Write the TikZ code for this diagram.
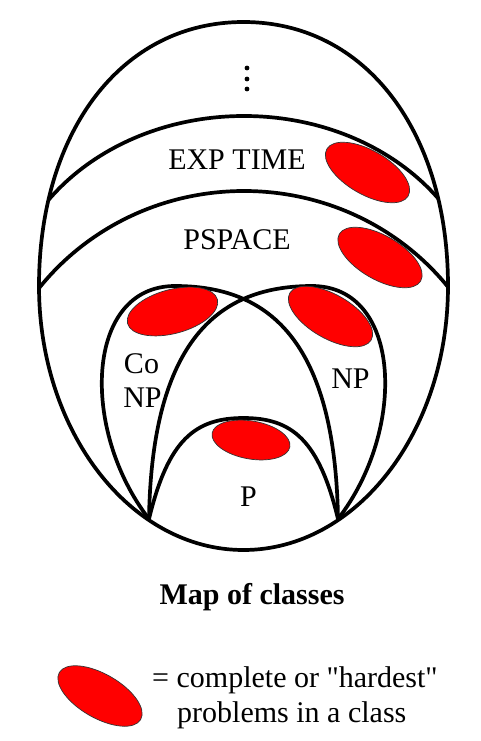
\documentclass[tikz,border=0pt]{standalone}
\usepackage{fontspec}
\setmainfont{Liberation Serif}
\newfontfamily\plainserif{Liberation Serif}
\begin{document}
\begin{tikzpicture}[x=1pt,y=-1pt,
  classline/.style={draw=black, line width=3.7pt, line join=round, line cap=round},
  blob/.style={fill=red, draw=black!80, line width=0.7pt},
  lbl/.style={anchor=base, inner sep=0pt, font=\fontsize{30}{34}\selectfont},
  lblw/.style={anchor=base west, inner sep=0pt, font=\plainserif\fontsize{30}{34}\selectfont}]
\useasboundingbox (0,0) rectangle (481,741);
% EXP TIME and PSPACE boundaries, clipped to the outer egg
\begin{scope}
  \clip (39,286) .. controls (39,133) and (120.5,22) .. (243.5,22)
        .. controls (366.5,22) and (448,133) .. (448,286)
        .. controls (448,431.8) and (356.4,550) .. (243.5,550)
        .. controls (130.6,550) and (39,431.8) .. (39,286) -- cycle;
  \begin{scope}
    \clip (0,0) rectangle (481,316);
    \draw[classline] (244,316) ellipse [x radius=240, y radius=200];
  \end{scope}
  \begin{scope}
    \clip (0,0) rectangle (481,441);
    \draw[classline] (244,441) ellipse [x radius=259, y radius=250];
  \end{scope}
\end{scope}
% outer egg
\draw[classline] (39,286) .. controls (39,133) and (120.5,22) .. (243.5,22)
        .. controls (366.5,22) and (448,133) .. (448,286)
        .. controls (448,431.8) and (356.4,550) .. (243.5,550)
        .. controls (130.6,550) and (39,431.8) .. (39,286) -- cycle;
% Co-NP arch
\draw[classline] (149,519) .. controls (80,430) and (85,286) .. (175,286)
        .. controls (260,286) and (335,330) .. (338,519);
% NP arch
\draw[classline] (338,519) .. controls (407,430) and (402,286) .. (312,286)
        .. controls (227,286) and (152,330) .. (149,519);
% P arch
\draw[classline] (149,519) .. controls (168,440) and (195,418) .. (243.5,418)
        .. controls (292,418) and (319,440) .. (338,519);
% complete problems
\draw[blob, shift={(367.5,172.5)}, rotate=-30] (0,0) ellipse [x radius=47, y radius=22];
\draw[blob, shift={(380,257.5)}, rotate=-30] (0,0) ellipse [x radius=47, y radius=22];
\draw[blob, shift={(172.5,311.5)}, rotate=15] (0,0) ellipse [x radius=46.5, y radius=22];
\draw[blob, shift={(330.5,316.5)}, rotate=-30] (0,0) ellipse [x radius=47, y radius=22];
\draw[blob, shift={(251,440)}, rotate=-10] (0,0) ellipse [x radius=39.5, y radius=19];
% dots
\fill (247,68) circle [radius=2.4];
\fill (247,79) circle [radius=2.4];
\fill (247,89) circle [radius=2.4];
% labels
\node[lbl] (exp) at (237,169) {EXP TIME};
\node[lbl] (pspace) at (237,249) {PSPACE};
\node[lbl] (co) at (141.5,373) {Co};
\node[lbl] (conp) at (142.5,407) {NP};
\node[lbl] (np) at (350.5,388) {NP};
\node[lbl] (p) at (248.5,506) {P};
\node[lbl, font=\fontsize{30}{34}\selectfont\bfseries] (title) at (252,604) {Map of classes};
% legend
\draw[blob, shift={(100,696)}, rotate=-30] (0,0) ellipse [x radius=47, y radius=22];
\node[lblw] (leg1) at (152,687) {= complete or "hardest"};
\node[lblw] (leg2) at (177,722) {problems in a class};
\end{tikzpicture}
\end{document}
